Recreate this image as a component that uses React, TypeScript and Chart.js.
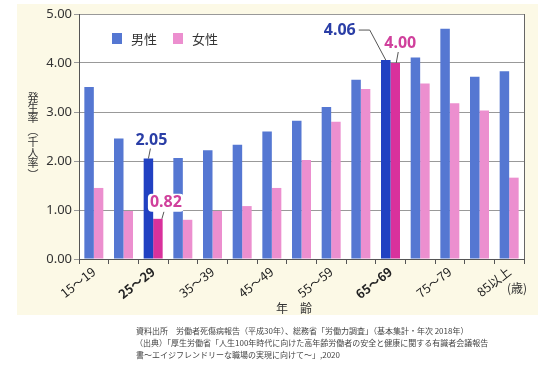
import React, { useEffect, useRef } from "react";
import { Chart, registerables } from "chart.js";

Chart.register(...registerables);

const categories = [
  "15～19", "20～24", "25～29", "30～34", "35～39", "40～44", "45～49", "50～54",
  "55～59", "60～64", "65～69", "70～74", "75～79", "80～84", "85以上",
];
const maleValues = [3.51, 2.46, 2.05, 2.06, 2.22, 2.33, 2.6, 2.82, 3.1, 3.66, 4.06, 4.11, 4.7, 3.72, 3.83];
const femaleValues = [1.45, 0.98, 0.82, 0.8, 0.98, 1.08, 1.45, 2.02, 2.8, 3.47, 4.0, 3.58, 3.18, 3.03, 1.66];
const highlightIndices = [2, 10];
const seriesNames = ["男性", "女性"];
const yTicks = [0, 1, 2, 3, 4, 5];
const yTitleChars = ["発", "生", "率", "︵", "千", "人", "率", "︶"];
const xTitle = "年　齢";
const unitLabel = "(歳)";
const footnotes = [
  "資料出所　労働者死傷病報告（平成30年）、総務省「労働力調査」（基本集計・年次 2018年）",
  "（出典）「厚生労働省「人生100年時代に向けた高年齢労働者の安全と健康に関する有識者会議報告",
  "書～エイジフレンドリーな職場の実現に向けて～」,2020",
];

const MALE = "#5577d2";
const MALE_HI = "#2141c2";
const FEMALE = "#ec8fcf";
const FEMALE_HI = "#d9319c";
const MALE_LABEL = "#2a3ea6";
const FEMALE_LABEL = "#d0409c";
const FONT = "'Noto Sans', 'Noto Sans CJK JP', sans-serif";
const JP = "'Noto Sans CJK JP', 'Noto Sans', sans-serif";

const decorPlugin = {
  id: "decor",
  beforeDraw(chart: any) {
    const { ctx, chartArea } = chart;
    ctx.save();
    ctx.fillStyle = "#ffffff";
    ctx.fillRect(0, 0, chart.width, chart.height);
    ctx.fillStyle = "#fcf9e6";
    ctx.fillRect(17, 4, 521, 311);
    ctx.fillStyle = "#ffffff";
    ctx.fillRect(chartArea.left, chartArea.top, chartArea.right - chartArea.left, chartArea.bottom - chartArea.top);
    ctx.restore();
  },
  afterDraw(chart: any) {
    const { ctx, chartArea } = chart;
    ctx.save();
    ctx.strokeStyle = "#666";
    ctx.lineWidth = 1;
    ctx.beginPath();
    ctx.moveTo(chartArea.right + 0.5, chartArea.top);
    ctx.lineTo(chartArea.right + 0.5, chartArea.bottom);
    ctx.stroke();

    // legend
    const lx = chartArea.left + 33;
    const ly = chartArea.top + 19;
    ctx.fillStyle = MALE;
    ctx.fillRect(lx, ly, 10, 11);
    ctx.fillStyle = FEMALE;
    ctx.fillRect(lx + 61, ly, 10, 11);
    ctx.fillStyle = "#333";
    ctx.font = `13px ${JP}`;
    ctx.textBaseline = "middle";
    ctx.textAlign = "left";
    ctx.fillText(seriesNames[0], lx + 19, ly + 6);
    ctx.fillText(seriesNames[1], lx + 80, ly + 6);

    // data labels
    const m = chart.getDatasetMeta(0).data;
    const f = chart.getDatasetMeta(1).data;
    ctx.font = `bold 16px ${FONT}`;
    ctx.textAlign = "center";
    ctx.textBaseline = "middle";
    ctx.lineWidth = 1;

    const a = m[highlightIndices[0]];
    ctx.fillStyle = MALE_LABEL;
    ctx.fillText(maleValues[highlightIndices[0]].toFixed(2), a.x + 3, a.y - 18);
    ctx.strokeStyle = "#555";
    ctx.beginPath();
    ctx.moveTo(a.x + 2, a.y - 10);
    ctx.lineTo(a.x, a.y);
    ctx.stroke();

    const b = f[highlightIndices[0]];
    ctx.fillStyle = "#ffffff";
    const bw = 36, bh = 18;
    const bx = b.x + 8 - bw / 2, by = b.y - 16 - bh / 2;
    ctx.beginPath();
    (ctx as any).roundRect ? (ctx as any).roundRect(bx, by, bw, bh, 4) : ctx.rect(bx, by, bw, bh);
    ctx.fill();
    ctx.fillStyle = FEMALE_LABEL;
    ctx.fillText(femaleValues[highlightIndices[0]].toFixed(2), b.x + 8, b.y - 16);
    ctx.beginPath();
    ctx.moveTo(b.x + 6, b.y - 7);
    ctx.lineTo(b.x + 4, b.y);
    ctx.stroke();

    const c = m[highlightIndices[1]];
    ctx.fillStyle = MALE_LABEL;
    ctx.fillText(maleValues[highlightIndices[1]].toFixed(2), c.x - 46, c.y - 30);
    ctx.beginPath();
    ctx.moveTo(c.x - 27, c.y - 30);
    ctx.lineTo(c.x - 16, c.y - 30);
    ctx.lineTo(c.x, c.y);
    ctx.stroke();

    const d = f[highlightIndices[1]];
    ctx.fillStyle = FEMALE_LABEL;
    ctx.fillText(femaleValues[highlightIndices[1]].toFixed(2), d.x + 5, d.y - 20);
    ctx.beginPath();
    ctx.moveTo(d.x + 3, d.y - 11);
    ctx.lineTo(d.x + 1, d.y);
    ctx.stroke();

    // y title (vertical)
    ctx.fillStyle = "#333";
    ctx.font = `11px ${JP}`;
    ctx.textAlign = "center";
    ctx.textBaseline = "middle";
    const ys = [98, 108, 118, 131, 142, 153, 163, 175];
    yTitleChars.forEach((ch, i) => ctx.fillText(ch, 33, ys[i]));

    // x title & unit
    ctx.font = `12px ${JP}`;
    ctx.fillText(xTitle, 294, 308);
    ctx.fillText(unitLabel, 517, 288);

    // footnotes
    ctx.fillStyle = "#444";
    ctx.font = `8px ${JP}`;
    ctx.textAlign = "left";
    ctx.fillText(footnotes[0], 136, 331);
    ctx.fillText(footnotes[1], 135, 343);
    ctx.fillText(footnotes[2], 136, 355);
    ctx.restore();
  },
};

export default function App() {
  const ref = useRef<HTMLCanvasElement | null>(null);
  useEffect(() => {
    if (!ref.current) return;
    const maleColors = maleValues.map((_, i) => (highlightIndices.includes(i) ? MALE_HI : MALE));
    const femaleColors = femaleValues.map((_, i) => (highlightIndices.includes(i) ? FEMALE_HI : FEMALE));
    const chart = new Chart(ref.current, {
      type: "bar",
      data: {
        labels: categories,
        datasets: [
          { label: seriesNames[0], data: maleValues, backgroundColor: maleColors, categoryPercentage: 0.64, barPercentage: 1.0 },
          { label: seriesNames[1], data: femaleValues, backgroundColor: femaleColors, categoryPercentage: 0.64, barPercentage: 1.0 },
        ],
      },
      options: {
        responsive: false,
        animation: false,
        devicePixelRatio: 1,
        layout: { padding: { top: 14, right: 29, left: 0, bottom: 0 } },
        plugins: { legend: { display: false }, tooltip: { enabled: false } },
        scales: {
          x: {
            afterFit: (s: any) => { s.height = 111; },
            grid: { display: true, drawOnChartArea: false, drawTicks: true, tickLength: 5, color: "#555", offset: true },
            border: { color: "#555" },
            ticks: {
              autoSkip: false,
              maxRotation: 38,
              minRotation: 38,
              padding: 0,
              color: "#222",
              callback: (_v: any, i: number) => (i % 2 === 0 ? categories[i] : ""),
              font: (ctx: any) => ({
                family: JP,
                size: 12.5,
                weight: highlightIndices.includes(ctx.index) ? "bold" : "normal",
              }),
            },
          },
          y: {
            min: 0,
            max: 5,
            afterFit: (s: any) => { s.width = 79; },
            afterBuildTicks: (s: any) => { s.ticks = yTicks.map((v) => ({ value: v })); },
            grid: { color: "#999", tickLength: 5, drawTicks: true },
            border: { color: "#555" },
            ticks: {
              padding: 2,
              color: "#333",
              font: { family: FONT, size: 13 },
              callback: (v: any) => Number(v).toFixed(2),
            },
          },
        },
      },
      plugins: [decorPlugin],
    } as any);
    return () => chart.destroy();
  }, []);
  return (
    <div style={{ position: "absolute", left: 0, top: 0, width: 553, height: 370 }}>
      <canvas ref={ref} width={553} height={370} style={{ width: 553, height: 370 }} />
    </div>
  );
}
